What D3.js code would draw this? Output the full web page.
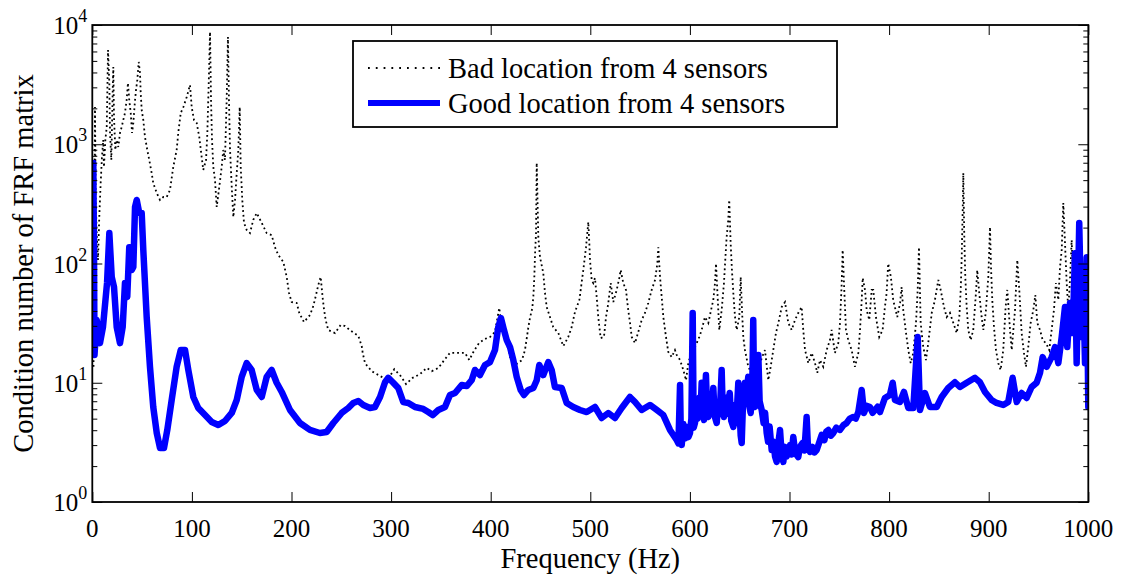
<!DOCTYPE html>
<html>
<head>
<meta charset="utf-8">
<script src="https://cdnjs.cloudflare.com/ajax/libs/d3/7.8.5/d3.min.js"></script>
<style>
  body { margin: 0; background: #fff; }
  svg { display: block; }
  text { font-family: 'Times New Roman', Times, 'Liberation Serif', serif; fill: #000; }
</style>
</head>
<body>
<div id="chart"></div>
<script>
// tick values / labels
const xTicks = [0, 100, 200, 300, 400, 500, 600, 700, 800, 900, 1000];
const yDecades = [1, 10, 100, 1000, 10000];
const yExponents = ['0', '1', '2', '3', '4'];
const legendLabels = ['Bad location from 4 sensors', 'Good location from 4 sensors'];

// "bad" sensor placement (black dotted)
const badFreq = [1.2,2.0,2.7,3.4,4.4,5.7,7.0,8.4,9.7,11.0,11.7,13.1,14.5,15.8,17.1,17.8,19.1,20.5,21.1,21.8,23.1,24.5,26.1,27.8,29.5,31.1,32.8,34.5,35.8,37.1,38.6,39.9,41.2,42.9,43.9,45.2,46.6,47.9,48.6,49.6,51.2,52.9,55.2,57.2,59.6,61.2,64.7,68.0,71.3,74.7,78.0,81.3,84.7,86.3,88.8,91.4,94.8,98.1,99.8,102.1,104.8,107.4,109.8,111.4,114.2,115.5,116.9,118.2,119.2,120.2,121.5,123.2,124.9,127.5,129.9,131.5,133.2,134.9,136.2,137.2,138.3,140.0,141.6,143.3,145.0,146.6,148.0,149.0,150.6,152.3,155.0,158.3,161.6,165.1,170.1,175.1,180.1,183.4,186.7,191.8,195.2,197.5,200.2,205.2,207.8,212.5,218.6,221.9,224.6,226.9,229.3,231.3,232.6,234.3,236.9,243.7,249.4,253.7,259.7,267.1,270.5,271.5,273.8,280.5,288.9,296.2,303.2,309.6,315.0,321.7,329.0,335.7,340.8,347.4,353.4,359.1,365.9,374.2,378.5,383.2,388.2,394.3,399.3,404.3,408.6,411.0,416.1,419.4,426.1,431.4,434.4,436.1,437.7,439.4,441.8,442.8,443.8,444.5,445.5,446.2,447.8,449.5,452.8,454.5,456.2,459.5,462.8,467.9,472.9,477.9,481.3,484.6,489.0,493.0,495.7,498.0,499.0,499.7,501.4,503.0,504.7,506.4,508.0,510.4,513.7,515.8,518.1,520.5,523.1,526.5,529.1,530.5,533.1,535.8,538.1,539.9,541.6,544.9,548.2,551.6,554.9,558.2,561.6,565.0,567.3,568.3,570.0,571.7,573.3,576.0,578.3,581.7,585.0,586.7,590.1,593.4,596.1,598.4,600.1,603.4,606.8,609.4,611.8,615.1,618.5,621.9,623.5,625.2,626.2,627.5,629.5,631.9,634.2,635.5,636.9,638.5,639.5,640.9,642.2,643.6,645.3,647.0,649.6,651.0,652.3,653.6,655.3,658.6,662.0,665.4,668.7,672.1,675.4,678.7,681.1,683.7,686.4,688.8,692.2,695.5,698.8,702.2,705.5,708.8,712.2,713.8,715.6,718.9,722.3,725.6,727.9,730.6,733.9,737.3,740.6,742.3,745.6,749.0,750.7,752.4,753.4,754.7,756.7,759.0,762.4,765.7,769.1,770.8,772.5,773.5,775.8,777.5,780.1,782.5,784.1,786.8,790.1,793.5,795.8,797.5,799.1,801.8,804.1,808.2,811.0,812.6,814.2,817.0,819.3,821.7,824.3,827.0,828.7,830.0,831.7,834.3,837.0,839.3,842.8,846.0,849.4,851.8,855.1,857.8,861.1,864.5,867.9,870.5,871.9,872.9,873.9,874.5,875.5,876.5,877.9,879.5,881.9,884.5,887.2,888.5,890.5,892.9,894.6,897.0,899.6,901.3,902.3,903.6,905.3,907.3,909.6,912.0,914.6,917.0,918.7,921.4,923.1,926.4,928.7,930.7,933.1,935.4,937.4,939.7,942.1,944.8,946.8,948.8,951.5,954.2,957.5,960.8,963.2,965.5,967.5,969.9,971.6,973.3,974.9,976.6,978.3,979.9,981.6,983.3,984.9,986.6,988.3,989.9,991.6,993.3,995.0,996.7,998.4,1000];
const badCond = [13.6,130,2050,341,180,107,245,473,782,1086,645,1086,1395,6170,3265,1243,738,2851,4444,1693,895,1086,948,1243,1395,1597,1829,2350,3265,2350,1829,1243,1508,2350,2851,3457,4897,3960,2691,1938,1597,1151,895,738,574,473,390,341,361,361,413,645,895,1243,1829,2050,2490,3140,2050,1597,1508,1151,782,609,738,1243,3265,8740,2350,1086,645,501,298,438,645,895,738,2350,7930,2350,895,438,245,341,574,895,2050,645,341,219,191,180,232,265,219,180,173,137,118,103,77.1,56.6,47.5,46.7,38.5,32.3,37.0,44.0,54.4,66.0,77.1,51.4,41.5,33.6,27.7,26.1,30.5,29.9,27.2,24.7,20.3,17.8,14.6,12.5,11.4,10.5,13.0,11.4,9.76,11.0,11.8,13.3,12.5,13.3,15.5,17.8,17.8,17.8,15.5,18.5,21.5,23.3,24.2,26.7,42.4,29.3,21.5,16.4,14.4,15.5,18.8,23.3,28.8,34.9,42.4,52.4,77.1,118,180,697,167,113,83.2,56.6,43.2,35.6,29.3,26.1,20.3,24.2,29.3,39.2,49.4,88.2,137,223,149,107,72.7,68.6,75.6,52.4,35.6,23.7,24.2,35.6,46.7,68.6,47.5,60.0,75.6,88.2,68.6,60.0,40.7,31.7,24.2,21.5,26.7,33.6,38.5,46.7,60.0,72.7,100,137,77.1,52.4,35.6,24.2,18.1,16.4,18.8,17.1,15.5,12.8,10.5,14.6,16.4,18.8,21.5,24.2,27.7,35.6,31.7,43.2,49.4,68.6,100,60.0,27.7,40.7,68.6,107,167,232,341,149,88.2,56.6,35.6,27.7,35.6,77.1,40.7,24.2,18.8,13.6,12.1,14.6,12.8,16.1,18.8,10.5,13.6,18.8,26.1,31.7,43.2,47.5,31.7,27.7,33.6,38.5,43.2,27.7,18.8,14.6,17.8,14.6,12.1,15.5,13.6,18.8,22.8,27.7,17.8,21.5,31.7,68.6,130,68.6,27.7,22.8,18.8,13.6,17.8,27.7,49.4,75.6,60.0,40.7,33.6,60.0,60.0,35.6,24.2,27.7,43.2,56.6,100,77.1,49.4,35.6,46.7,63.5,40.7,26.1,18.8,14.6,17.8,31.7,60.0,137,31.7,19.9,15.5,21.5,38.5,49.4,72.7,60.0,43.2,35.6,38.5,31.7,26.1,35.6,60.0,113,281,574,167,77.1,43.2,27.7,22.8,27.7,56.6,88.2,56.6,35.6,27.7,38.5,77.1,202,93.5,49.4,29.3,18.8,14.6,12.8,18.8,43.2,60.0,27.7,18.8,40.7,107,60.0,26.1,17.8,13.6,19.9,31.7,40.7,54.4,31.7,27.7,22.8,21.5,18.8,27.7,40.7,68.6,49.4,93.5,130,322,149,68.6,40.7,72.7,157,68.6,35.6,43.2,68.6,93.5,49.4,24.2,18.8,35.6,24.2];

// "good" sensor placement (thick blue)
const goodFreq = [1.0,1.7,2.2,4.4,7.7,10.7,14.8,17.1,19.5,21.8,24.5,27.8,30.5,32.8,35.1,37.1,39.6,41.2,42.9,44.6,47.2,49.6,51.2,54.6,57.9,61.2,64.7,68.0,72.0,75.3,79.7,84.7,88.8,93.1,96.4,101.4,106.4,113.2,119.9,126.5,133.2,140.0,145.0,150.0,155.0,160.0,165.1,170.1,175.1,180.1,185.1,190.2,198.5,208.5,218.5,228.5,235.3,242.0,250.4,257.0,262.0,267.1,272.1,278.8,283.8,288.9,293.9,297.2,302.2,307.2,312.2,317.3,324.0,332.3,337.3,341.8,347.4,354.1,359.1,364.2,370.9,375.9,380.9,384.2,389.2,394.3,399.3,404.3,407.6,410.3,413.3,416.1,419.4,422.7,426.1,430.1,433.4,437.7,442.8,446.2,448.8,452.8,457.8,461.2,464.5,471.3,476.3,482.9,489.6,496.4,504.7,511.4,518.1,524.8,531.5,539.8,544.9,551.6,559.9,566.7,573.3,580.0,586.7,588.5,590.1,591.0,591.8,593.5,595.0,596.8,598.5,600.1,601.5,602.8,603.8,605.1,606.5,607.5,608.4,609.5,610.5,611.8,613.0,614.1,615.0,616.1,617.3,618.5,620.0,621.5,623.5,625.0,626.9,628.5,630.0,631.9,633.0,634.2,636.0,637.5,638.5,640.0,641.5,643.6,645.0,646.5,648.6,650.0,651.0,652.0,653.5,655.3,656.5,658.6,659.5,661.0,662.5,663.6,664.5,665.4,667.0,668.7,670.0,672.1,674.0,675.5,677.1,678.5,680.0,682.1,684.0,685.5,687.1,688.5,690.5,692.0,693.8,695.5,697.0,698.8,700.5,702.0,703.8,705.5,707.0,708.8,710.5,713.2,715.0,717.2,718.5,720.6,723.0,725.0,727.3,729.5,732.3,735.0,737.0,739.0,741.5,744.0,747.0,750.7,754.0,757.4,760.5,764.0,766.5,769.1,772.5,774.8,777.5,780.8,783.5,785.8,788.5,790.8,795.8,800.8,803.6,805.9,810.9,814.9,819.3,824.3,828.7,831.0,836.0,841.0,847.8,852.8,859.4,866.1,871.1,877.9,886.2,891.2,896.3,902.9,907.9,914.6,919.6,924.0,928.1,933.1,938.1,943.1,948.1,951.5,954.2,958.2,963.2,966.6,969.9,973.3,976.6,978.9,981.6,984.3,986.6,988.3,990.9,993.3,995.0,996.7,998.4,1000];
const goodCond = [697,130,17.1,33.6,21.5,29.3,68.6,180,77.1,63.5,29.3,21.5,29.3,68.6,52.4,137,88.2,93.5,298,341,265,265,130,35.6,13.6,6.26,3.79,2.84,2.84,4.02,7.17,13.6,18.8,18.8,12.8,7.60,6.14,5.36,4.69,4.42,4.78,5.58,7.17,11.2,14.6,12.8,8.70,7.60,11.2,12.8,10.0,8.37,5.91,4.60,4.02,3.79,3.86,4.60,5.58,6.14,6.77,7.03,6.51,6.14,6.26,7.60,10.1,11.0,10.0,9.04,6.90,6.77,6.26,6.03,5.68,5.36,5.91,6.26,7.89,8.20,9.58,9.39,10.5,12.8,11.6,14.1,14.9,18.8,29.3,34.9,27.7,22.8,19.9,15.5,11.2,8.70,7.89,8.70,9.04,10.5,14.1,11.6,14.9,12.8,9.21,9.04,6.77,6.26,5.91,5.68,6.26,5.06,5.58,5.06,6.14,7.60,6.90,5.91,6.51,5.91,5.36,4.02,3.31,3.1,9.58,3.2,3.01,4.5,3.4,4.26,3.5,3.79,5.0,38.5,4.2,4.60,7.0,5.0,5.91,7.5,5.2,10.0,5.5,4.87,7.0,11.6,6.0,5.16,7.2,5.5,9.04,5.2,4.60,6.8,5.5,12.8,5.8,5.16,7.5,5.5,6.77,8.2,4.8,4.26,6.5,4.6,10.0,5.5,3.6,3.13,7.5,10.0,7.8,11.2,6.5,5.58,8.0,33.6,7.5,6.26,9.0,17.1,7.0,5.91,4.6,5.6,3.79,3.2,4.3,2.73,3.2,2.4,2.17,3.0,4.02,2.6,2.17,2.9,2.4,2.58,3.0,2.5,3.51,2.7,2.5,2.38,2.9,3.13,2.7,5.16,2.9,2.63,2.9,2.6,2.73,3.1,3.65,3.3,3.9,4.02,3.6,3.79,4.2,4.02,4.4,4.60,5.0,5.16,5.0,5.68,8.70,5.58,6.4,6.26,5.6,5.91,6.3,5.68,7.45,7.89,10.0,7.17,6.90,8.37,6.14,6.14,24.2,5.91,8.20,6.26,6.26,7.60,9.04,10.1,9.21,10.0,11.0,10.1,8.37,7.17,6.77,6.51,6.90,11.0,6.90,8.20,7.45,9.21,10.0,12.1,16.4,13.6,16.4,19.9,14.6,24.2,43.2,19.9,46.7,26.1,122,14.6,219,24.2,60,14.6,113,6.26];

const W = 1126, H = 581;
const margin = {top: 25, right: 37.7, bottom: 79, left: 92.3};
const width = W - margin.left - margin.right;
const height = H - margin.top - margin.bottom;

const svg = d3.select('#chart').append('svg')
    .attr('width', W)
    .attr('height', H);

const g = svg.append('g')
    .attr('transform', `translate(${margin.left},${margin.top})`);

const x = d3.scaleLinear().domain([0, 1000]).range([0, width]);
const y = d3.scaleLog().domain([1, 10000]).range([height, 0]);

// minor log ticks 2..9 in each decade
const minorTicks = y.ticks().filter(v => yDecades.indexOf(v) < 0);

g.append('defs').append('clipPath').attr('id', 'plot-clip')
    .append('rect').attr('width', width).attr('height', height);

// series
const line = d3.line()
    .x(d => x(d[0]))
    .y(d => y(d[1]));

const badData = badFreq.map((f, i) => [f, badCond[i]]);
const goodData = goodFreq.map((f, i) => [f, goodCond[i]]);

const plot = g.append('g').attr('clip-path', 'url(#plot-clip)');

plot.append('path')
    .datum(badData)
    .attr('fill', 'none')
    .attr('stroke', '#000')
    .attr('stroke-width', 1.8)
    .attr('stroke-dasharray', '1.8,3')
    .attr('d', line);

plot.append('path')
    .datum(goodData)
    .attr('fill', 'none')
    .attr('stroke', '#0000ff')
    .attr('stroke-width', 6.5)
    .attr('stroke-linejoin', 'round')
    .attr('stroke-linecap', 'round')
    .attr('d', line);

// axes (ticks inside on all four sides)
function styleAxis(sel) {
    sel.select('.domain').remove();
    sel.selectAll('.tick line').attr('stroke', '#000').attr('stroke-width', 1);
    sel.selectAll('.tick text').remove();
}

g.append('g').attr('transform', `translate(0,${height})`)
    .call(d3.axisBottom(x).tickValues(xTicks).tickSize(-10).tickFormat(''))
    .call(styleAxis);
g.append('g')
    .call(d3.axisTop(x).tickValues(xTicks).tickSize(-10).tickFormat(''))
    .call(styleAxis);

g.append('g')
    .call(d3.axisLeft(y).tickValues(yDecades).tickSize(-10).tickFormat(''))
    .call(styleAxis);
g.append('g')
    .call(d3.axisLeft(y).tickValues(minorTicks).tickSize(-5).tickFormat(''))
    .call(styleAxis);
g.append('g').attr('transform', `translate(${width},0)`)
    .call(d3.axisRight(y).tickValues(yDecades).tickSize(-10).tickFormat(''))
    .call(styleAxis);
g.append('g').attr('transform', `translate(${width},0)`)
    .call(d3.axisRight(y).tickValues(minorTicks).tickSize(-5).tickFormat(''))
    .call(styleAxis);

// frame
g.append('rect')
    .attr('width', width)
    .attr('height', height)
    .attr('fill', 'none')
    .attr('stroke', '#000')
    .attr('stroke-width', 1.8);

// tick labels
g.selectAll('.xlabel')
    .data(xTicks)
    .enter()
    .append('text')
    .attr('x', d => x(d))
    .attr('y', height + 35)
    .attr('text-anchor', 'middle')
    .style('font-size', '25px')
    .text(d => d);

yDecades.forEach((v, i) => {
    const t = g.append('text')
        .attr('x', -5)
        .attr('y', y(v) + 9)
        .attr('text-anchor', 'end')
        .style('font-size', '25px');
    t.append('tspan').text('10');
    t.append('tspan')
        .attr('dy', -12)
        .style('font-size', '18px')
        .text(yExponents[i]);
});

// axis titles
g.append('text')
    .attr('x', width / 2)
    .attr('y', height + 66)
    .attr('text-anchor', 'middle')
    .style('font-size', '28.5px')
    .text('Frequency (Hz)');

g.append('text')
    .attr('transform', `translate(${33 - margin.left},${height / 2}) rotate(-90)`)
    .attr('text-anchor', 'middle')
    .style('font-size', '28.5px')
    .text('Condition number of FRF matrix');

// legend
const legend = svg.append('g').attr('transform', 'translate(353,41)');

legend.append('rect')
    .attr('width', 484)
    .attr('height', 86)
    .attr('fill', '#fff')
    .attr('stroke', '#000')
    .attr('stroke-width', 1.8);

const rowY = [27, 62];
legendLabels.forEach((label, i) => {
    const row = legend.append('g').attr('transform', `translate(0,${rowY[i]})`);
    const sample = row.append('line')
        .attr('x1', 15)
        .attr('x2', 87)
        .attr('y1', 0)
        .attr('y2', 0);
    if (i === 0) {
        sample.attr('stroke', '#000').attr('stroke-width', 1.8).attr('stroke-dasharray', '1.8,6');
    } else {
        sample.attr('stroke', '#0000ff').attr('stroke-width', 6);
    }
    row.append('text')
        .attr('x', 95)
        .attr('y', 10)
        .style('font-size', '28.5px')
        .text(label);
});
</script>
</body>
</html>
